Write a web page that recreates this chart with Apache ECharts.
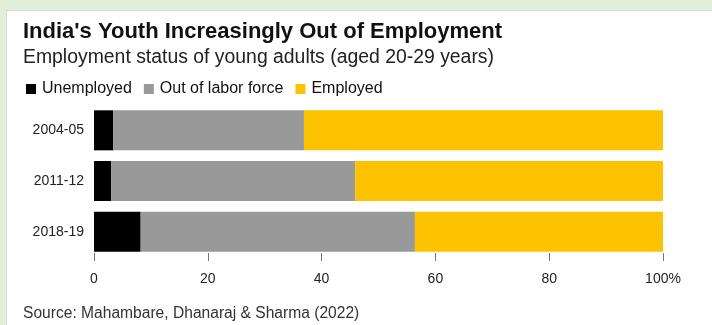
<!DOCTYPE html>
<html>
<head>
<meta charset="utf-8">
<script src="https://cdn.jsdelivr.net/npm/echarts@6/dist/echarts.min.js"></script>
<style>
html,body{margin:0;padding:0;background:#e2eed8;}
#card{position:absolute;left:6px;top:10px;width:706px;height:315px;background:#fff;border-left:1px solid #d3dfc8;border-top:1px solid #d3dfc8;box-sizing:border-box;}
#chart{position:absolute;left:0;top:0;width:712px;height:325px;}
</style>
</head>
<body>
<div id="card"></div>
<div id="chart"></div>
<script>
const categories = ['2004-05', '2011-12', '2018-19'];
const unemployed = [3.4, 3.0, 8.2];
const outOfLaborForce = [33.5, 42.9, 48.2];
const employed = [63.1, 54.1, 43.6];
const xTicks = [0, 20, 40, 60, 80, 100];

const font = 'Liberation Sans, Arial, sans-serif';
const chart = echarts.init(document.getElementById('chart'), null, {renderer: 'canvas'});
chart.setOption({
  backgroundColor: 'transparent',
  animation: false,
  textStyle: {fontFamily: font},
  title: [
    {text: "India's Youth Increasingly Out of Employment", left: 18, top: 16,
     textStyle: {fontSize: 22, fontWeight: 'bold', color: '#111', fontFamily: font}},
    {text: 'Employment status of young adults (aged 20-29 years)', left: 18, top: 43,
     textStyle: {fontSize: 19.4, fontWeight: 'normal', color: '#222', fontFamily: font}},
    {text: 'Source: Mahambare, Dhanaraj & Sharma (2022)', left: 18, top: 301,
     textStyle: {fontSize: 15.6, fontWeight: 'normal', color: '#333', fontFamily: font}}
  ],
  legend: {
    left: 21, top: 76, icon: 'rect', itemWidth: 10, itemHeight: 10, itemGap: 12,
    textStyle: {fontSize: 16, color: '#111', fontFamily: font, padding: [0, 0, 0, 1]},
    data: ['Unemployed', 'Out of labor force', 'Employed']
  },
  grid: {left: 94, right: 49, top: 105, bottom: 68, containLabel: false},
  xAxis: {
    type: 'value', min: 0, max: 100, interval: 20, offset: -4,
    axisLine: {show: false},
    axisTick: {show: true, length: 8, lineStyle: {color: '#777', width: 1}},
    splitLine: {show: false},
    axisLabel: {margin: 19, fontSize: 14, color: '#222', fontFamily: font,
      formatter: v => xTicks.includes(v) ? (v === 100 ? '100%' : String(v)) : ''}
  },
  yAxis: {
    type: 'category', data: categories, inverse: true,
    axisLine: {show: false}, axisTick: {show: false},
    axisLabel: {margin: 10, fontSize: 14, color: '#222', fontFamily: font}
  },
  series: [
    {name: 'Unemployed', type: 'bar', stack: 's', data: unemployed, barCategoryGap: '21%',
     itemStyle: {color: '#000'}},
    {name: 'Out of labor force', type: 'bar', stack: 's', data: outOfLaborForce,
     itemStyle: {color: '#999999'}},
    {name: 'Employed', type: 'bar', stack: 's', data: employed,
     itemStyle: {color: '#fdc300'}}
  ]
});
</script>
</body>
</html>
